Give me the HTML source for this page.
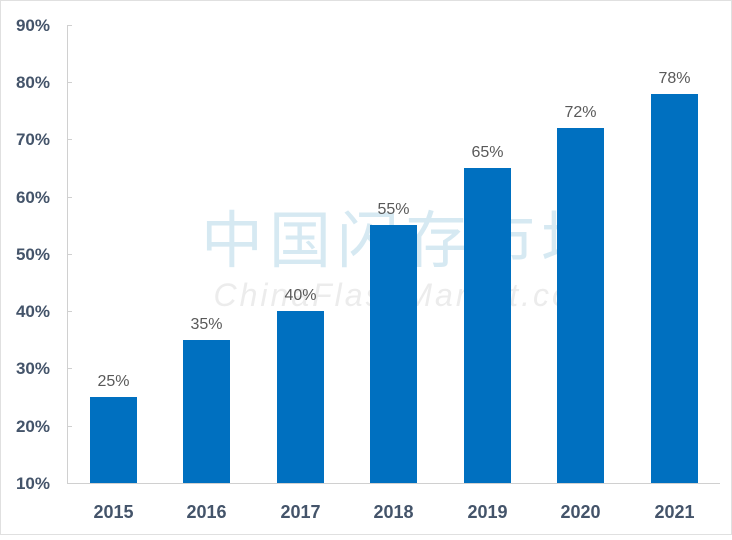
<!DOCTYPE html>
<html><head><style>body{margin:0;background:#fff}</style></head><body>
<svg width="732" height="535" xmlns="http://www.w3.org/2000/svg" font-family="Liberation Sans, sans-serif">
<rect x="0.5" y="0.5" width="731" height="534" fill="#fff" stroke="#e0e0e0"/>
<text x="405" y="262" font-family="Noto Sans CJK SC, sans-serif" font-size="62" fill="#d6e9f2" text-anchor="middle" letter-spacing="6">中国闪存市场</text>
<text x="408" y="306" font-size="32" fill="#ececec" text-anchor="middle" font-style="italic" letter-spacing="3">ChinaFlashMarket.com</text>
<g stroke="#d0d0d0" stroke-width="1">
<line x1="67.5" y1="25" x2="67.5" y2="483"/>
<line x1="67" y1="483.5" x2="720" y2="483.5"/>
<line x1="67" y1="25.5" x2="72" y2="25.5"/><line x1="67" y1="82.5" x2="72" y2="82.5"/>
<line x1="67" y1="139.5" x2="72" y2="139.5"/><line x1="67" y1="197.5" x2="72" y2="197.5"/>
<line x1="67" y1="254.5" x2="72" y2="254.5"/><line x1="67" y1="311.5" x2="72" y2="311.5"/>
<line x1="67" y1="368.5" x2="72" y2="368.5"/><line x1="67" y1="426.5" x2="72" y2="426.5"/>
</g>
<g font-size="17" font-weight="bold" fill="#44546a" text-anchor="end">
<text x="50" y="31">90%</text><text x="50" y="88">80%</text><text x="50" y="145">70%</text>
<text x="50" y="203">60%</text><text x="50" y="260">50%</text><text x="50" y="317">40%</text>
<text x="50" y="374">30%</text><text x="50" y="432">20%</text><text x="50" y="489">10%</text>
</g>
<g fill="#0070c0">
<rect x="90" y="397" width="47" height="86"/>
<rect x="183" y="340" width="47" height="143"/>
<rect x="277" y="311" width="47" height="172"/>
<rect x="370" y="225" width="47" height="258"/>
<rect x="464" y="168" width="47" height="315"/>
<rect x="557" y="128" width="47" height="355"/>
<rect x="651" y="94" width="47" height="389"/>
</g>
<g font-size="16" fill="#595959" text-anchor="middle">
<text x="113.5" y="386">25%</text><text x="206.5" y="329">35%</text><text x="300.5" y="300">40%</text>
<text x="393.5" y="214">55%</text><text x="487.5" y="157">65%</text><text x="580.5" y="117">72%</text>
<text x="674.5" y="83">78%</text>
</g>
<g font-size="18" font-weight="bold" fill="#44546a" text-anchor="middle">
<text x="113.5" y="518">2015</text><text x="206.5" y="518">2016</text><text x="300.5" y="518">2017</text>
<text x="393.5" y="518">2018</text><text x="487.5" y="518">2019</text><text x="580.5" y="518">2020</text>
<text x="674.5" y="518">2021</text>
</g>
</svg>
</body></html>
